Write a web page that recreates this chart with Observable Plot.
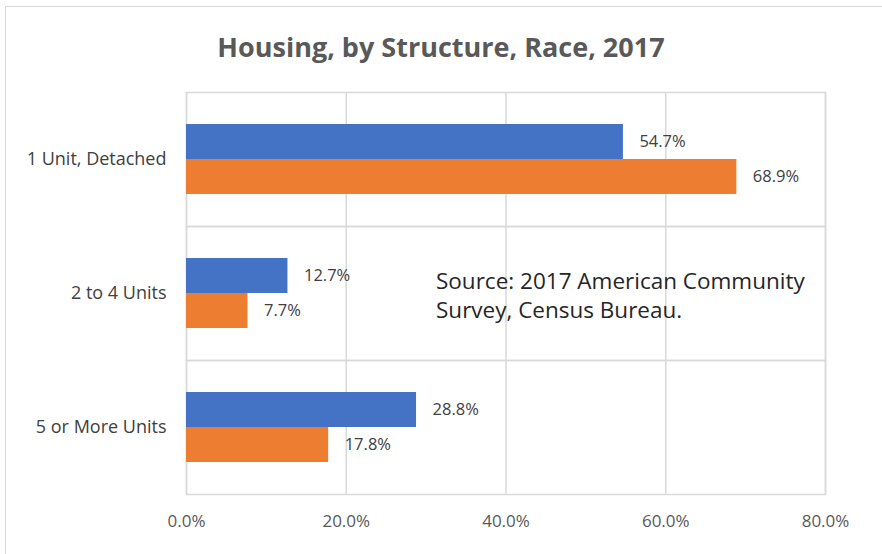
<!DOCTYPE html>
<html><head><meta charset="utf-8">
<script src="https://cdn.jsdelivr.net/npm/d3@7"></script>
<script src="https://cdn.jsdelivr.net/npm/@observablehq/plot@0.6"></script>
<style>
body{margin:0;background:#fff;overflow:hidden}
#wrap{position:relative;width:882px;height:554px;overflow:hidden;font-family:"Open Sans",sans-serif}
#border{position:absolute;left:5px;top:6px;width:900px;height:600px;border:1.5px solid #d9d9d9}
#title{position:absolute;left:0;width:882px;top:28px;line-height:37px;text-align:center;font-size:27px;font-weight:700;color:#595959}
#chart{position:absolute;left:0;top:0}
#source{position:absolute;left:436px;top:266px;font-size:22.5px;line-height:29px;color:#262626}
</style></head>
<body><div id="wrap"><div id="border"></div><div id="chart"></div><div id="title">Housing, by Structure, Race, 2017</div><div id="source">Source: 2017 American Community<br>Survey, Census Bureau.</div></div>
<script>
const categories = ["1 Unit, Detached", "2 to 4 Units", "5 or More Units"];
const seriesNames = ["Series 1", "Series 2"];
const series1 = [54.7, 12.7, 28.8];
const series2 = [68.9, 7.7, 17.8];
const xTicks = [0, 20, 40, 60, 80];
const colors = ["#4472C4", "#ED7D31"];
const data = categories.flatMap((c, i) => [
  {category: c, series: seriesNames[0], value: series1[i]},
  {category: c, series: seriesNames[1], value: series2[i]}
]);
const chart = Plot.plot({
  width: 882, height: 554, marginTop: 92, marginBottom: 60, marginLeft: 186, marginRight: 57,
  style: {fontFamily: "Open Sans", background: "transparent"},
  x: {domain: [0, 80]},
  y: {domain: seriesNames, paddingInner: 0, paddingOuter: 0.914, axis: null},
  fy: {domain: categories, padding: 0},
  color: {domain: seriesNames, range: colors},
  marks: [
    Plot.gridX(xTicks, {stroke: "#d9d9d9", strokeOpacity: 1, strokeWidth: 1.5}),
    Plot.frame({stroke: "#d9d9d9", strokeWidth: 1.5}),
    Plot.barX(data, {x: "value", y: "series", fy: "category", fill: "series"}),
    Plot.text(data, {x: "value", y: "series", fy: "category", text: d => d.value.toFixed(1) + "%", textAnchor: "start", dx: 16, fontSize: 16.5, fill: "#404040"}),
    Plot.axisX({ticks: xTicks, tickFormat: d => d.toFixed(1) + "%", tickSize: 0, tickPadding: 20, fontSize: 17, color: "#595959", label: null}),
    Plot.axisFy({anchor: "left", tickSize: 0, tickPadding: 20, fontSize: 18, color: "#404040", label: null})
  ]
});
document.getElementById("chart").appendChild(chart);
</script>
</body></html>
